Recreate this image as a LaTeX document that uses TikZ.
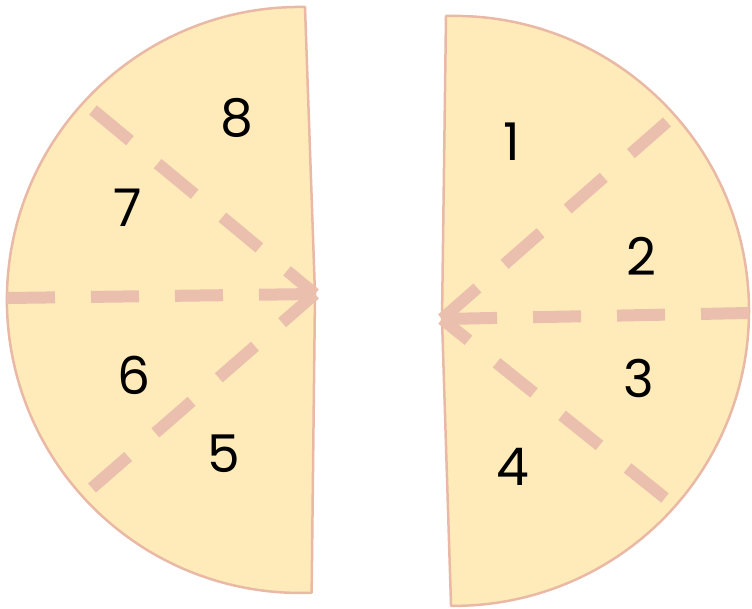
\documentclass[tikz,border=0pt]{standalone}
\usepackage{fontspec}
\setmainfont{Poppins}
\usepackage{tikz}
\definecolor{pie}{HTML}{FEEBB9}
\definecolor{rim}{HTML}{E9B9A6}
\definecolor{cut}{HTML}{EBBFAD}

\begin{document}
\begin{tikzpicture}[x=1pt,y=-1pt,
  half/.style={fill=pie,draw=rim,line width=2.5pt,line join=round},
  cutline/.style={cut,line width=12pt,dash pattern=on 48pt off 36pt},
  num/.style={font=\fontsize{52}{60}\selectfont,inner sep=0pt}]
  \useasboundingbox (0,0) rectangle (752,608);
  % left half
  \coordinate (tipL) at (315,294);
  \coordinate (L0) at (7,298);
  \coordinate (L1) at (93,110);
  \coordinate (L2) at (92,488);
  \draw[half] (305,7) arc[start angle=-89,end angle=-272.3,radius=293] -- (tipL) -- cycle;
  % right half
  \coordinate (tipR) at (442,319);
  \coordinate (R0) at (749,313);
  \coordinate (R1) at (667,122);
  \coordinate (R2) at (665,498);
  \draw[half] (446,16) arc[start angle=-91.56,end angle=90.58,radius=295] -- (tipR) -- cycle;
  % cuts
  \foreach \k in {0,1,2} \draw[cutline] (L\k) -- (tipL);
  \foreach \k in {0,1,2} \draw[cutline] (R\k) -- (tipR);
  % pieces
  \foreach \n/\x/\y in {1/512/142,2/641/256,3/639/378,4/513/467,
                        5/224/454,6/134/375,7/128/208,8/237/118}
    \node[num] (p\n) at (\x,\y) {\n};
\end{tikzpicture}
\end{document}
